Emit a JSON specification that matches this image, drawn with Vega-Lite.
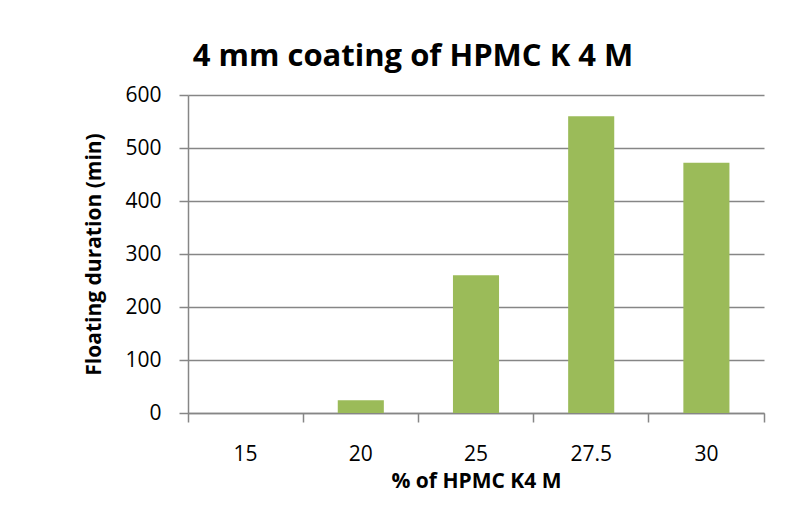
{
  "$schema": "https://vega.github.io/schema/vega-lite/v6.json",
  "width": 576,
  "height": 318,
  "autosize": {"type": "none"},
  "padding": {"left": 188, "top": 95, "right": 40, "bottom": 100},
  "background": "white",
  "title": {
    "text": "4 mm coating of HPMC K 4 M",
    "font": "Open Sans",
    "fontSize": 31,
    "fontWeight": "bold",
    "color": "black",
    "anchor": "middle",
    "dx": -63,
    "dy": 41,
    "baseline": "alphabetic",
    "offset": 28
  },
  "data": {
    "values": [
      {"pct": "15", "duration": 0},
      {"pct": "20", "duration": 24},
      {"pct": "25", "duration": 260},
      {"pct": "27.5", "duration": 560},
      {"pct": "30", "duration": 472}
    ]
  },
  "mark": {"type": "bar", "color": "#9BBB59", "width": {"band": 0.4}},
  "encoding": {
    "x": {
      "field": "pct",
      "type": "nominal",
      "sort": null,
      "scale": {"paddingInner": 0, "paddingOuter": 0},
      "axis": {
        "title": "% of HPMC K4 M",
        "titleFontSize": 21,
        "labelAngle": 0,
        "bandPosition": 1,
        "tickExtra": true,
        "labelOffset": 0,
        "tickSize": 9,
        "labelPadding": 21,
        "titlePadding": 6
      }
    },
    "y": {
      "field": "duration",
      "type": "quantitative",
      "scale": {"domain": [0, 600]},
      "axis": {
        "title": "Floating duration (min)",
        "titleFontSize": 21,
        "values": [0, 100, 200, 300, 400, 500, 600],
        "grid": true,
        "tickSize": 9,
        "labelPadding": 18,
        "titlePadding": 20
      }
    }
  },
  "config": {
    "view": {"stroke": null},
    "axis": {
      "labelFont": "Open Sans",
      "labelFontSize": 21,
      "labelColor": "black",
      "titleFont": "Open Sans",
      "titleFontSize": 18,
      "titleFontWeight": "bold",
      "titleColor": "black",
      "domainColor": "#868686",
      "domainWidth": 1.5,
      "tickColor": "#868686",
      "tickWidth": 1.5,
      "gridColor": "#868686",
      "gridWidth": 1.5
    }
  }
}
